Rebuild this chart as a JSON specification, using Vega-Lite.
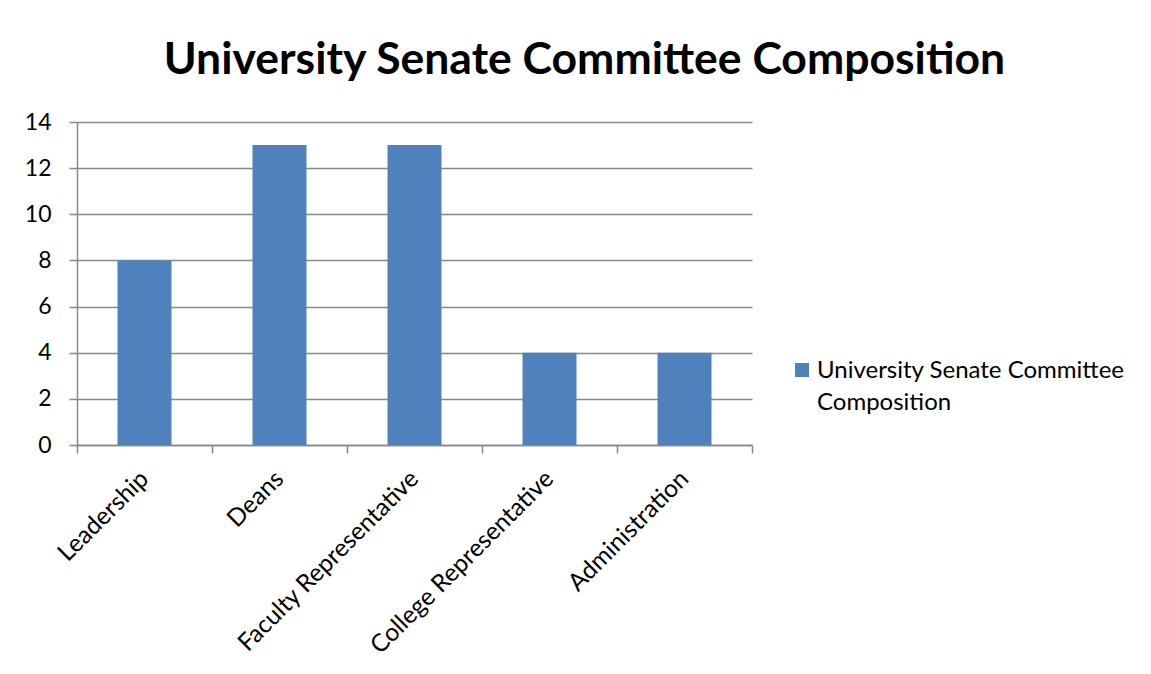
{
  "$schema": "https://vega.github.io/schema/vega-lite/v6.json",
  "width": 675,
  "height": 323,
  "autosize": "none",
  "padding": {"left": 77, "top": 122, "right": 399, "bottom": 229},
  "background": "white",
  "title": {
    "text": "University Senate Committee Composition",
    "font": "Lato",
    "fontSize": 44.5,
    "fontWeight": "bold",
    "color": "black",
    "anchor": "middle",
    "dx": 170,
    "offset": 28
  },
  "data": {
    "values": [
      {"category": "Leadership", "value": 8},
      {"category": "Deans", "value": 13},
      {"category": "Faculty Representative", "value": 13},
      {"category": "College Representative", "value": 4},
      {"category": "Administration", "value": 4}
    ]
  },
  "mark": {"type": "bar", "width": {"band": 0.4}},
  "encoding": {
    "x": {
      "field": "category",
      "type": "nominal",
      "sort": null,
      "scale": {"paddingInner": 0, "paddingOuter": 0},
      "axis": {
        "title": null,
        "labelAngle": -45,
        "labelAlign": "right",
        "labelBaseline": "middle",
        "tickBand": "extent",
        "tickSize": 8,
        "tickColor": "#888888",
        "domainColor": "#888888",
        "domainWidth": 1.5,
        "tickWidth": 1.5,
        "labelFont": "Lato",
        "labelFontSize": 24.5,
        "labelColor": "black",
        "labelPadding": 22,
        "labelLimit": 400,
        "grid": false
      }
    },
    "y": {
      "field": "value",
      "type": "quantitative",
      "scale": {"domain": [0, 14]},
      "axis": {
        "title": null,
        "values": [0, 2, 4, 6, 8, 10, 12, 14],
        "grid": true,
        "gridColor": "#888888",
        "gridWidth": 1.5,
        "tickSize": 8,
        "tickColor": "#888888",
        "tickWidth": 1.5,
        "domainColor": "#888888",
        "domainWidth": 1.5,
        "labelFont": "Lato",
        "labelFontSize": 23,
        "labelColor": "black",
        "labelPadding": 18
      }
    },
    "color": {
      "datum": "University Senate Committee Composition",
      "type": "nominal",
      "scale": {"range": ["#4F81BD"]},
      "legend": {
        "title": null,
        "orient": "none",
        "legendX": 713,
        "legendY": 236,
        "padding": 0,
        "symbolType": "square",
        "symbolSize": 196,
        "symbolStrokeWidth": 0,
        "symbolOpacity": 1,
        "labelFont": "Lato",
        "labelFontSize": 24,
        "labelColor": "black",
        "labelLimit": 400,
        "labelOffset": 3,
        "labelExpr": "['University Senate Committee', 'Composition']",
        "labelBaseline": "alphabetic",
        "encoding": {
          "labels": {
            "lineHeight": {"value": 32},
            "dy": {"value": 8}
          }
        }
      }
    }
  },
  "config": {
    "view": {"stroke": null},
    "style": {"guide-label": {"lineHeight": 32}}
  }
}
